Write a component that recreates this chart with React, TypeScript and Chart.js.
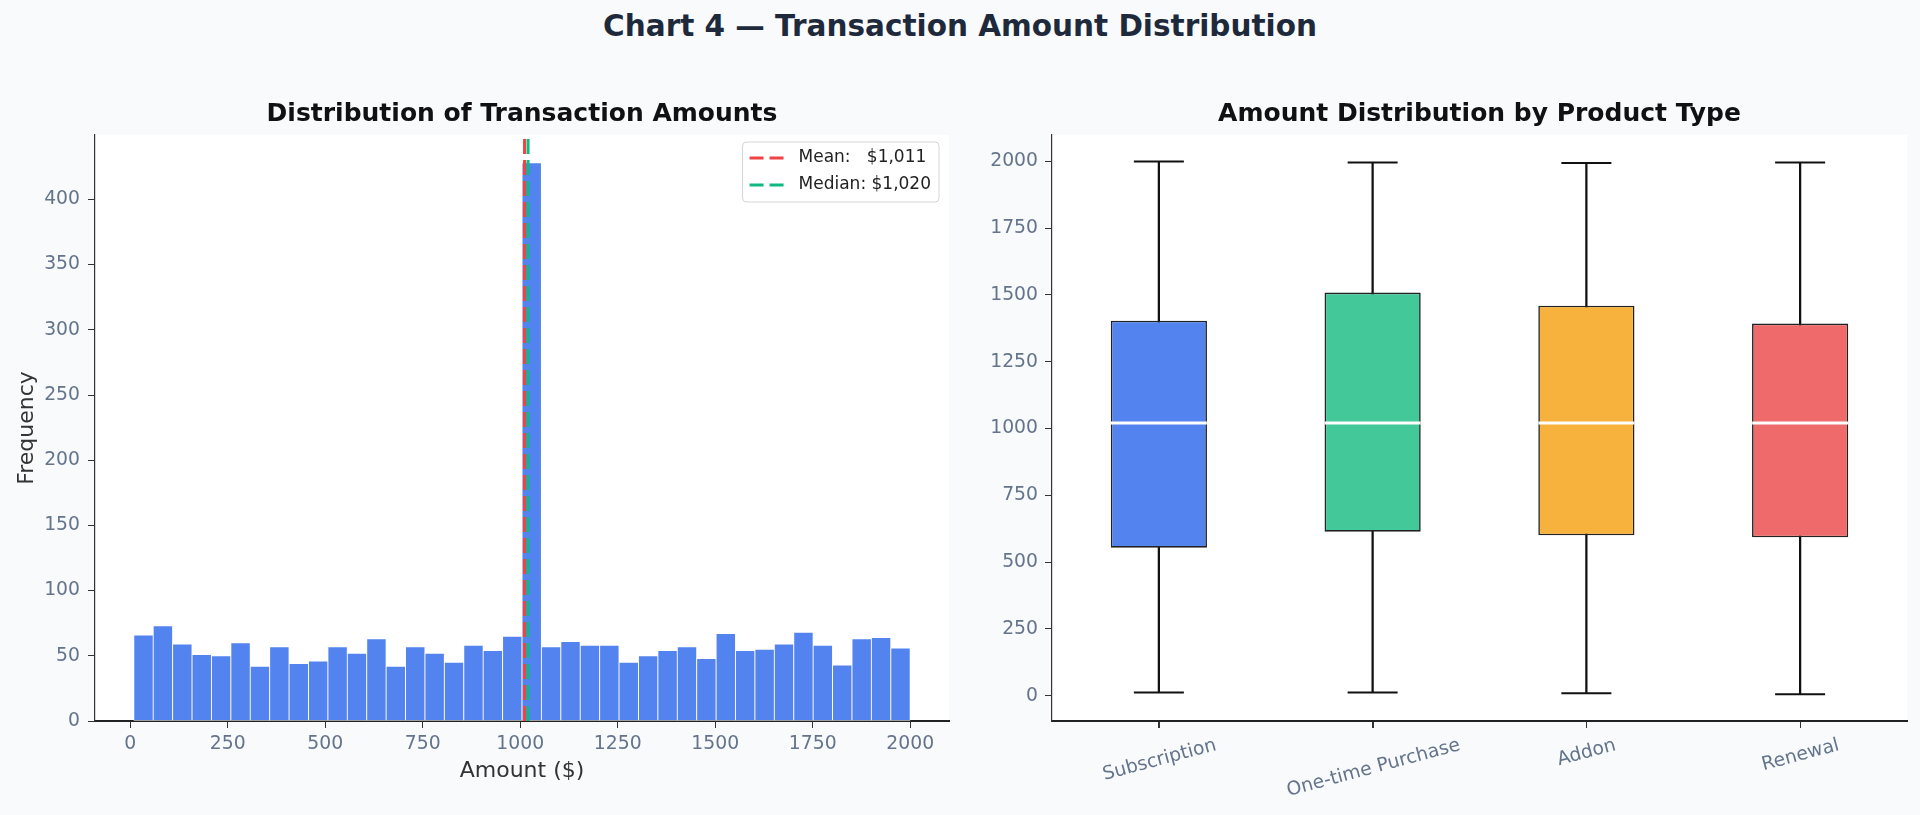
import { useEffect, useRef } from 'react'
import { Chart, registerables } from 'chart.js'
import type { Plugin } from 'chart.js'

Chart.register(...registerables)

// histogram (left panel)
const BIN_COUNTS = [
  66, 73, 59, 51, 50, 60, 42, 57, 44, 46,
  57, 52, 63, 42, 57, 52, 45, 58, 54, 65,
  428, 57, 61, 58, 58, 45, 50, 54, 57, 48,
  67, 54, 55, 59, 68, 58, 43, 63, 64, 56,
]
const BIN_START = 9
const BIN_END = 2000
const MEAN_AMOUNT = 1011
const MEDIAN_AMOUNT = 1020
const HIST_X_TICKS = [0, 250, 500, 750, 1000, 1250, 1500, 1750, 2000]
const HIST_Y_TICKS = [0, 50, 100, 150, 200, 250, 300, 350, 400]
const HIST_X_RANGE = [-90.5, 2099.5]
const HIST_Y_RANGE = [0, 449.4]

// box plot (right panel)
const PRODUCTS = ['Subscription', 'One-time Purchase', 'Addon', 'Renewal']
const BOX_MIN = [12, 12, 9, 5]
const BOX_Q1 = [554, 614, 600, 593]
const BOX_MEDIAN = [1021, 1021, 1021, 1021]
const BOX_Q3 = [1404, 1509, 1460, 1393]
const BOX_MAX = [2000, 1996, 1994, 1996]
const BOX_Y_TICKS = [0, 250, 500, 750, 1000, 1250, 1500, 1750, 2000]
const BOX_Y_RANGE = [-95, 2099]

const FONT = "'DejaVu Sans', sans-serif"
const TICK_COLOR = '#64748b'
const LABEL_COLOR = '#333333'
const HIST_COLOR = '#5383ee'
const BOX_COLORS = ['#5383ee', '#43c89a', '#f6b23d', '#ef6a6a']
const MEAN_COLOR = '#ef4444'
const MEDIAN_COLOR = '#10b981'
const TICK_SIZE = 18.8

const money = (v: number) => '$' + v.toLocaleString('en-US')

const whiteArea: Plugin = {
  id: 'whiteArea',
  beforeDraw(chart) {
    const { ctx, chartArea: a } = chart
    ctx.save()
    ctx.fillStyle = '#ffffff'
    ctx.fillRect(a.left, a.top, a.right - a.left, a.bottom - a.top)
    ctx.restore()
  },
}

const statLegend: Plugin = {
  id: 'statLegend',
  afterDraw(chart) {
    const { ctx, chartArea: a } = chart
    const items = [
      { text: 'Mean:   ' + money(MEAN_AMOUNT), color: MEAN_COLOR },
      { text: 'Median: ' + money(MEDIAN_AMOUNT), color: MEDIAN_COLOR },
    ]
    ctx.save()
    ctx.font = `17px ${FONT}`
    const tw = Math.max(...items.map((i) => ctx.measureText(i.text).width))
    const w = 7 + 35 + 14 + tw + 8
    const h = 60
    const x = a.right - 10 - w
    const y = a.top + 7
    ctx.fillStyle = 'rgba(255,255,255,0.85)'
    ctx.strokeStyle = '#d4d4d4'
    ctx.lineWidth = 1
    ctx.beginPath()
    ctx.roundRect(x, y, w, h, 4)
    ctx.fill()
    ctx.stroke()
    items.forEach((it, i) => {
      const cy = y + 16 + i * 27
      ctx.strokeStyle = it.color
      ctx.lineWidth = 3
      ctx.setLineDash([14, 6])
      ctx.beginPath()
      ctx.moveTo(x + 7, cy)
      ctx.lineTo(x + 42, cy)
      ctx.stroke()
      ctx.setLineDash([])
      ctx.fillStyle = '#222222'
      ctx.textBaseline = 'middle'
      ctx.fillText(it.text, x + 56, cy)
    })
    ctx.restore()
  },
}

// matplotlib-style rotated labels centred under each category, plus tick marks
const rotatedLabels: Plugin = {
  id: 'rotatedLabels',
  afterDraw(chart) {
    const { ctx, chartArea: a } = chart
    const xs = chart.scales.x
    const th = (15 * Math.PI) / 180
    ctx.save()
    ctx.font = `${TICK_SIZE}px ${FONT}`
    ctx.textAlign = 'center'
    ctx.textBaseline = 'middle'
    PRODUCTS.forEach((lab, i) => {
      const px = Math.round(xs.getPixelForTick(i)) + 0.5
      ctx.strokeStyle = '#333333'
      ctx.lineWidth = 1
      ctx.beginPath()
      ctx.moveTo(px, a.bottom + 1)
      ctx.lineTo(px, a.bottom + 7)
      ctx.stroke()
      const w = ctx.measureText(lab).width
      const cy = a.bottom + 15 + (w * Math.sin(th) + TICK_SIZE * Math.cos(th)) / 2
      ctx.save()
      ctx.translate(px, cy)
      ctx.rotate(-th)
      ctx.fillStyle = TICK_COLOR
      ctx.fillText(lab, 0, 0)
      ctx.restore()
    })
    ctx.restore()
  },
}

const tickFont = { family: FONT, size: TICK_SIZE }
const gridStyle = { display: true, drawOnChartArea: false, drawTicks: true, tickLength: 7, color: '#333333', offset: false }
const titleStyle = { family: FONT, size: 25, weight: 'bold' as const }

function HistogramChart() {
  const canvasRef = useRef<HTMLCanvasElement>(null)
  const chartRef = useRef<Chart | null>(null)

  useEffect(() => {
    const canvas = canvasRef.current
    if (!canvas) return
    chartRef.current?.destroy()
    const binWidth = (BIN_END - BIN_START) / BIN_COUNTS.length
    chartRef.current = new Chart(canvas, {
      type: 'bar',
      data: {
        datasets: [
          {
            type: 'line',
            data: [{ x: MEAN_AMOUNT, y: HIST_Y_RANGE[0] }, { x: MEAN_AMOUNT, y: HIST_Y_RANGE[1] }],
            borderColor: MEAN_COLOR,
            borderWidth: 3,
            borderDash: [15, 6],
            pointRadius: 0,
            order: 0,
          },
          {
            type: 'line',
            data: [{ x: MEDIAN_AMOUNT, y: HIST_Y_RANGE[0] }, { x: MEDIAN_AMOUNT, y: HIST_Y_RANGE[1] }],
            borderColor: MEDIAN_COLOR,
            borderWidth: 3,
            borderDash: [15, 6],
            pointRadius: 0,
            order: 0,
          },
          {
            type: 'bar',
            data: BIN_COUNTS.map((c, i) => ({ x: BIN_START + binWidth * (i + 0.5), y: c })),
            backgroundColor: HIST_COLOR,
            borderColor: '#ffffff',
            borderWidth: 0.8,
            borderSkipped: false,
            barPercentage: 1,
            categoryPercentage: 1,
            order: 1,
          },
        ] as any,
      },
      options: {
        responsive: true,
        maintainAspectRatio: false,
        animation: false,
        events: [],
        layout: { autoPadding: false, padding: { top: 99, right: 11, bottom: 0, left: 0 } },
        plugins: {
          legend: { display: false },
          tooltip: { enabled: false },
          title: {
            display: true,
            fullSize: false,
            text: 'Distribution of Transaction Amounts',
            color: '#111111',
            font: titleStyle,
            padding: { top: 0, bottom: 6 },
          },
        },
        scales: {
          x: {
            type: 'linear',
            offset: false,
            min: HIST_X_RANGE[0],
            max: HIST_X_RANGE[1],
            afterBuildTicks: (s: any) => { s.ticks = HIST_X_TICKS.map((v) => ({ value: v })) },
            afterFit: (s: any) => { s.height = 94; s.paddingLeft = 0; s.paddingRight = 0 },
            ticks: { color: TICK_COLOR, font: tickFont, padding: 5, maxRotation: 0, callback: (v: any) => String(v) },
            grid: gridStyle,
            border: { display: true, color: '#222222', width: 2 },
            title: {
              display: true,
              text: 'Amount ($)',
              color: LABEL_COLOR,
              font: { family: FONT, size: 22 },
              padding: { top: 0, bottom: 30.8 },
            },
          },
          y: {
            min: HIST_Y_RANGE[0],
            max: HIST_Y_RANGE[1],
            afterBuildTicks: (s: any) => { s.ticks = HIST_Y_TICKS.map((v) => ({ value: v })) },
            afterFit: (s: any) => { s.width = 95 },
            ticks: { color: TICK_COLOR, font: tickFont, padding: 8, callback: (v: any) => String(v) },
            grid: gridStyle,
            border: { display: true, color: '#333333', width: 1.2 },
            title: {
              display: true,
              text: 'Frequency',
              color: LABEL_COLOR,
              font: { family: FONT, size: 22 },
              padding: { top: 14, bottom: 0 },
            },
          },
        },
      },
      plugins: [whiteArea, statLegend],
    })
    return () => { chartRef.current?.destroy() }
  }, [])

  return (
    <div style={{ position: 'absolute', left: 0, top: 0, width: 960, height: 815 }}>
      <canvas ref={canvasRef} />
    </div>
  )
}

function BoxChart() {
  const canvasRef = useRef<HTMLCanvasElement>(null)
  const chartRef = useRef<Chart | null>(null)

  useEffect(() => {
    const canvas = canvasRef.current
    if (!canvas) return
    chartRef.current?.destroy()
    chartRef.current = new Chart(canvas, {
      type: 'bar',
      data: {
        labels: PRODUCTS,
        datasets: [
          {
            type: 'line',
            data: BOX_MEDIAN,
            showLine: false,
            pointStyle: 'line',
            pointRadius: 48,
            pointBorderColor: '#ffffff',
            pointBorderWidth: 3,
            order: 0,
          },
          {
            type: 'line',
            data: BOX_MIN,
            showLine: false,
            pointStyle: 'line',
            pointRadius: 25,
            pointBorderColor: '#111111',
            pointBorderWidth: 2,
            order: 1,
          },
          {
            type: 'line',
            data: BOX_MAX,
            showLine: false,
            pointStyle: 'line',
            pointRadius: 25,
            pointBorderColor: '#111111',
            pointBorderWidth: 2,
            order: 1,
          },
          {
            type: 'bar',
            data: PRODUCTS.map((_, i) => [BOX_Q1[i], BOX_Q3[i]]),
            backgroundColor: BOX_COLORS,
            borderColor: '#222222',
            borderWidth: 1.6,
            borderSkipped: false,
            grouped: false,
            barPercentage: 0.45,
            categoryPercentage: 1,
            order: 2,
          },
          {
            type: 'bar',
            data: PRODUCTS.map((_, i) => [BOX_MIN[i], BOX_MAX[i]]),
            backgroundColor: '#111111',
            barThickness: 1.6,
            grouped: false,
            order: 3,
          },
        ] as any,
      },
      options: {
        responsive: true,
        maintainAspectRatio: false,
        animation: false,
        events: [],
        layout: { autoPadding: false, padding: { top: 99, right: 13, bottom: 0, left: 0 } },
        plugins: {
          legend: { display: false },
          tooltip: { enabled: false },
          title: {
            display: true,
            fullSize: false,
            text: 'Amount Distribution by Product Type',
            color: '#111111',
            font: titleStyle,
            padding: { top: 0, bottom: 6 },
          },
        },
        scales: {
          x: {
            afterFit: (s: any) => { s.height = 94; s.paddingLeft = 0; s.paddingRight = 0 },
            ticks: { color: 'rgba(0,0,0,0)', font: tickFont, maxRotation: 0, autoSkip: false },
            grid: gridStyle,
            border: { display: true, color: '#222222', width: 2 },
          },
          y: {
            min: BOX_Y_RANGE[0],
            max: BOX_Y_RANGE[1],
            afterBuildTicks: (s: any) => { s.ticks = BOX_Y_TICKS.map((v) => ({ value: v })) },
            afterFit: (s: any) => { s.width = 92 },
            ticks: { color: TICK_COLOR, font: tickFont, padding: 7, callback: (v: any) => String(v) },
            grid: gridStyle,
            border: { display: true, color: '#333333', width: 1.2 },
          },
        },
      },
      plugins: [whiteArea, rotatedLabels],
    })
    return () => { chartRef.current?.destroy() }
  }, [])

  return (
    <div style={{ position: 'absolute', left: 960, top: 0, width: 960, height: 815 }}>
      <canvas ref={canvasRef} />
    </div>
  )
}

export default function App() {
  return (
    <div
      style={{
        position: 'fixed',
        left: 0,
        top: 0,
        width: 1920,
        height: 815,
        background: '#f8fafc',
        overflow: 'hidden',
        fontFamily: FONT,
      }}
    >
      <div
        style={{
          position: 'absolute',
          left: 0,
          top: 8,
          width: 1920,
          lineHeight: '36px',
          textAlign: 'center',
          fontSize: 29.5,
          fontWeight: 'bold',
          color: '#1e293b',
        }}
      >
        Chart 4 — Transaction Amount Distribution
      </div>
      <HistogramChart />
      <BoxChart />
    </div>
  )
}
